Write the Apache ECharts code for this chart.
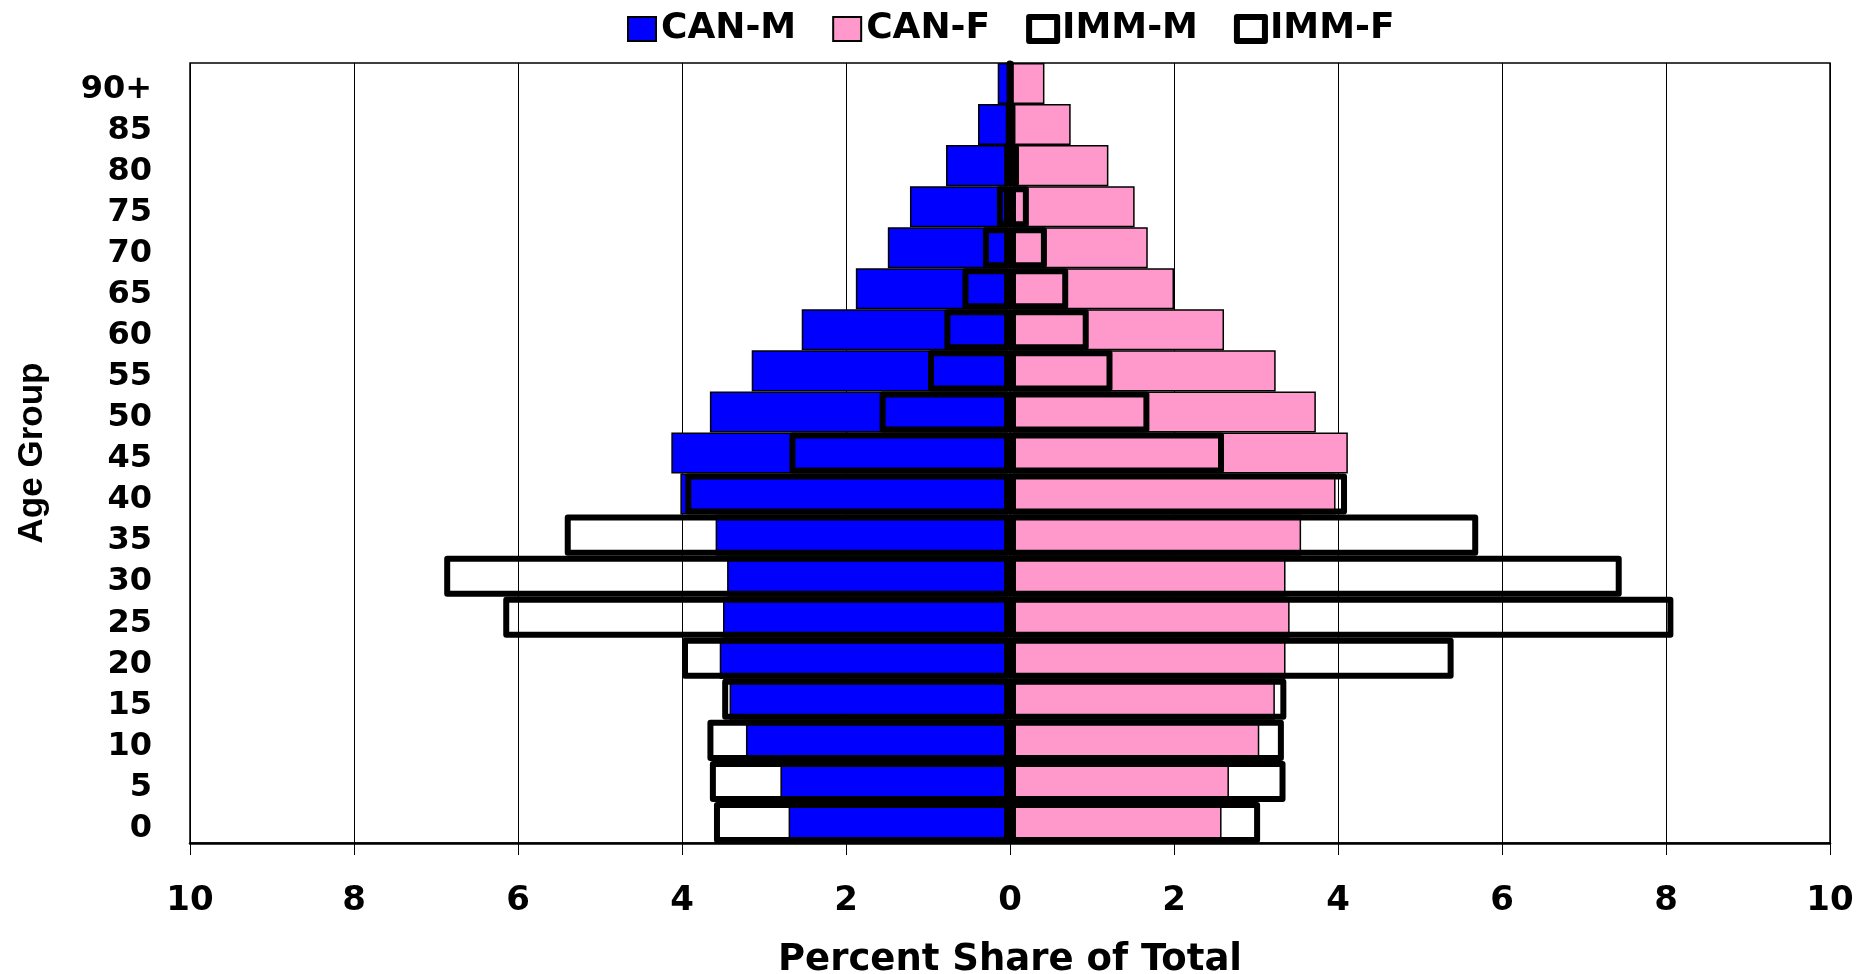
<!DOCTYPE html>
<html>
<head>
<meta charset="utf-8">
<title>Age pyramid</title>
<script src="https://cdn.jsdelivr.net/npm/echarts@6/dist/echarts.min.js"></script>
<style>
  html, body { margin: 0; padding: 0; background: #fff; }
  #chart { width: 1872px; height: 974px; }
</style>
</head>
<body>
<div id="chart"></div>
<script>
// age groups, bottom to top
var ageGroups = ['0', '5', '10', '15', '20', '25', '30', '35', '40', '45', '50', '55', '60', '65', '70', '75', '80', '85', '90+'];
// percent share of total (males drawn to the left)
var canM = [2.70, 2.80, 3.22, 3.42, 3.54, 3.50, 3.45, 3.59, 4.02, 4.13, 3.66, 3.15, 2.54, 1.88, 1.49, 1.22, 0.78, 0.39, 0.15];
var canF = [2.58, 2.67, 3.04, 3.23, 3.36, 3.41, 3.36, 3.55, 3.97, 4.12, 3.73, 3.24, 2.61, 2.00, 1.68, 1.52, 1.20, 0.74, 0.42];
var immM = [3.61, 3.66, 3.69, 3.51, 4.00, 6.18, 6.90, 5.43, 3.96, 2.69, 1.59, 1.00, 0.80, 0.58, 0.33, 0.16, 0.07, 0.03, 0.01];
var immF = [3.05, 3.36, 3.34, 3.37, 5.41, 8.09, 7.46, 5.71, 4.11, 2.61, 1.70, 1.25, 0.96, 0.71, 0.45, 0.23, 0.11, 0.06, 0.02];
var xTicks = { min: -10, max: 10, step: 2 };

var font = 'DejaVu Sans, sans-serif';
var neg = function (arr) { return arr.map(function (v) { return -v; }); };

var chart = echarts.init(document.getElementById('chart'));

var outline = {
    color: 'rgba(0,0,0,0)',
    borderColor: '#000',
    borderWidth: 6,
    borderJoin: 'round'
};

var option = {
    animation: false,
    backgroundColor: '#fff',
    legend: {
        top: 6,
        left: 622,
        itemWidth: 28,
        itemHeight: 24,
        itemGap: 36,
        textStyle: { fontFamily: font, fontWeight: 'bold', fontSize: 36, color: '#000' },
        data: [
            { name: 'CAN-M', icon: 'rect', itemStyle: { color: '#0000ff', borderColor: '#000', borderWidth: 2 } },
            { name: 'CAN-F', icon: 'rect', itemStyle: { color: '#ff99cc', borderColor: '#000', borderWidth: 2 } },
            { name: 'IMM-M', icon: 'rect', itemStyle: { color: '#fff', borderColor: '#000', borderWidth: 6, borderJoin: 'round' } },
            { name: 'IMM-F', icon: 'rect', itemStyle: { color: '#fff', borderColor: '#000', borderWidth: 6, borderJoin: 'round' } }
        ]
    },
    grid: {
        left: 190,
        right: 42,
        top: 63,
        bottom: 131,
        show: true,
        borderColor: '#000',
        borderWidth: 1.5,
        containLabel: false,
        outerBoundsMode: 'none'
    },
    xAxis: {
        type: 'value',
        min: xTicks.min,
        max: xTicks.max,
        interval: xTicks.step,
        name: 'Percent Share of Total',
        nameLocation: 'middle',
        nameGap: 99,
        nameTextStyle: { fontFamily: font, fontWeight: 'bold', fontSize: 37, color: '#000' },
        axisLine: { show: true, lineStyle: { color: '#000', width: 2.5 } },
        axisTick: { show: true, length: 12, lineStyle: { color: '#000', width: 1 } },
        axisLabel: {
            margin: 41,
            fontFamily: font,
            fontWeight: 'bold',
            fontSize: 34,
            color: '#000',
            formatter: function (v) { return Math.abs(v); }
        },
        splitLine: { show: true, lineStyle: { color: '#000', width: 1 } }
    },
    yAxis: {
        type: 'category',
        data: ageGroups,
        name: 'Age Group',
        nameLocation: 'middle',
        nameGap: 140,
        nameTextStyle: { fontFamily: 'Liberation Sans, Arial, sans-serif', fontWeight: 'bold', fontSize: 35, color: '#000' },
        axisLine: { show: true, lineStyle: { color: '#000', width: 1.5 } },
        axisTick: { show: false },
        axisLabel: {
            interval: 0,
            hideOverlap: false,
            margin: 38,
            formatter: function (v) { return '{t|' + v + '}'; },
            rich: {
                t: { padding: [12, 0, 0, 0], fontFamily: font, fontWeight: 'bold', fontSize: 32, color: '#000' }
            }
        },
        splitLine: { show: false }
    },
    series: [
        {
            name: 'CAN-M',
            type: 'bar',
            barGap: '-100%',
            barCategoryGap: '0%',
            itemStyle: { color: '#0000ff', borderColor: '#000', borderWidth: 1.5 },
            data: neg(canM)
        },
        {
            name: 'CAN-F',
            type: 'bar',
            barGap: '-100%',
            barCategoryGap: '0%',
            itemStyle: { color: '#ff99cc', borderColor: '#000', borderWidth: 1.5 },
            data: canF
        },
        {
            name: 'IMM-M',
            type: 'bar',
            barGap: '-100%',
            barCategoryGap: '0%',
            itemStyle: outline,
            data: neg(immM)
        },
        {
            name: 'IMM-F',
            type: 'bar',
            barGap: '-100%',
            barCategoryGap: '0%',
            itemStyle: outline,
            data: immF
        }
    ]
};

chart.setOption(option);
window.addEventListener('resize', function () {
    chart.resize();
});
</script>
</body>
</html>
